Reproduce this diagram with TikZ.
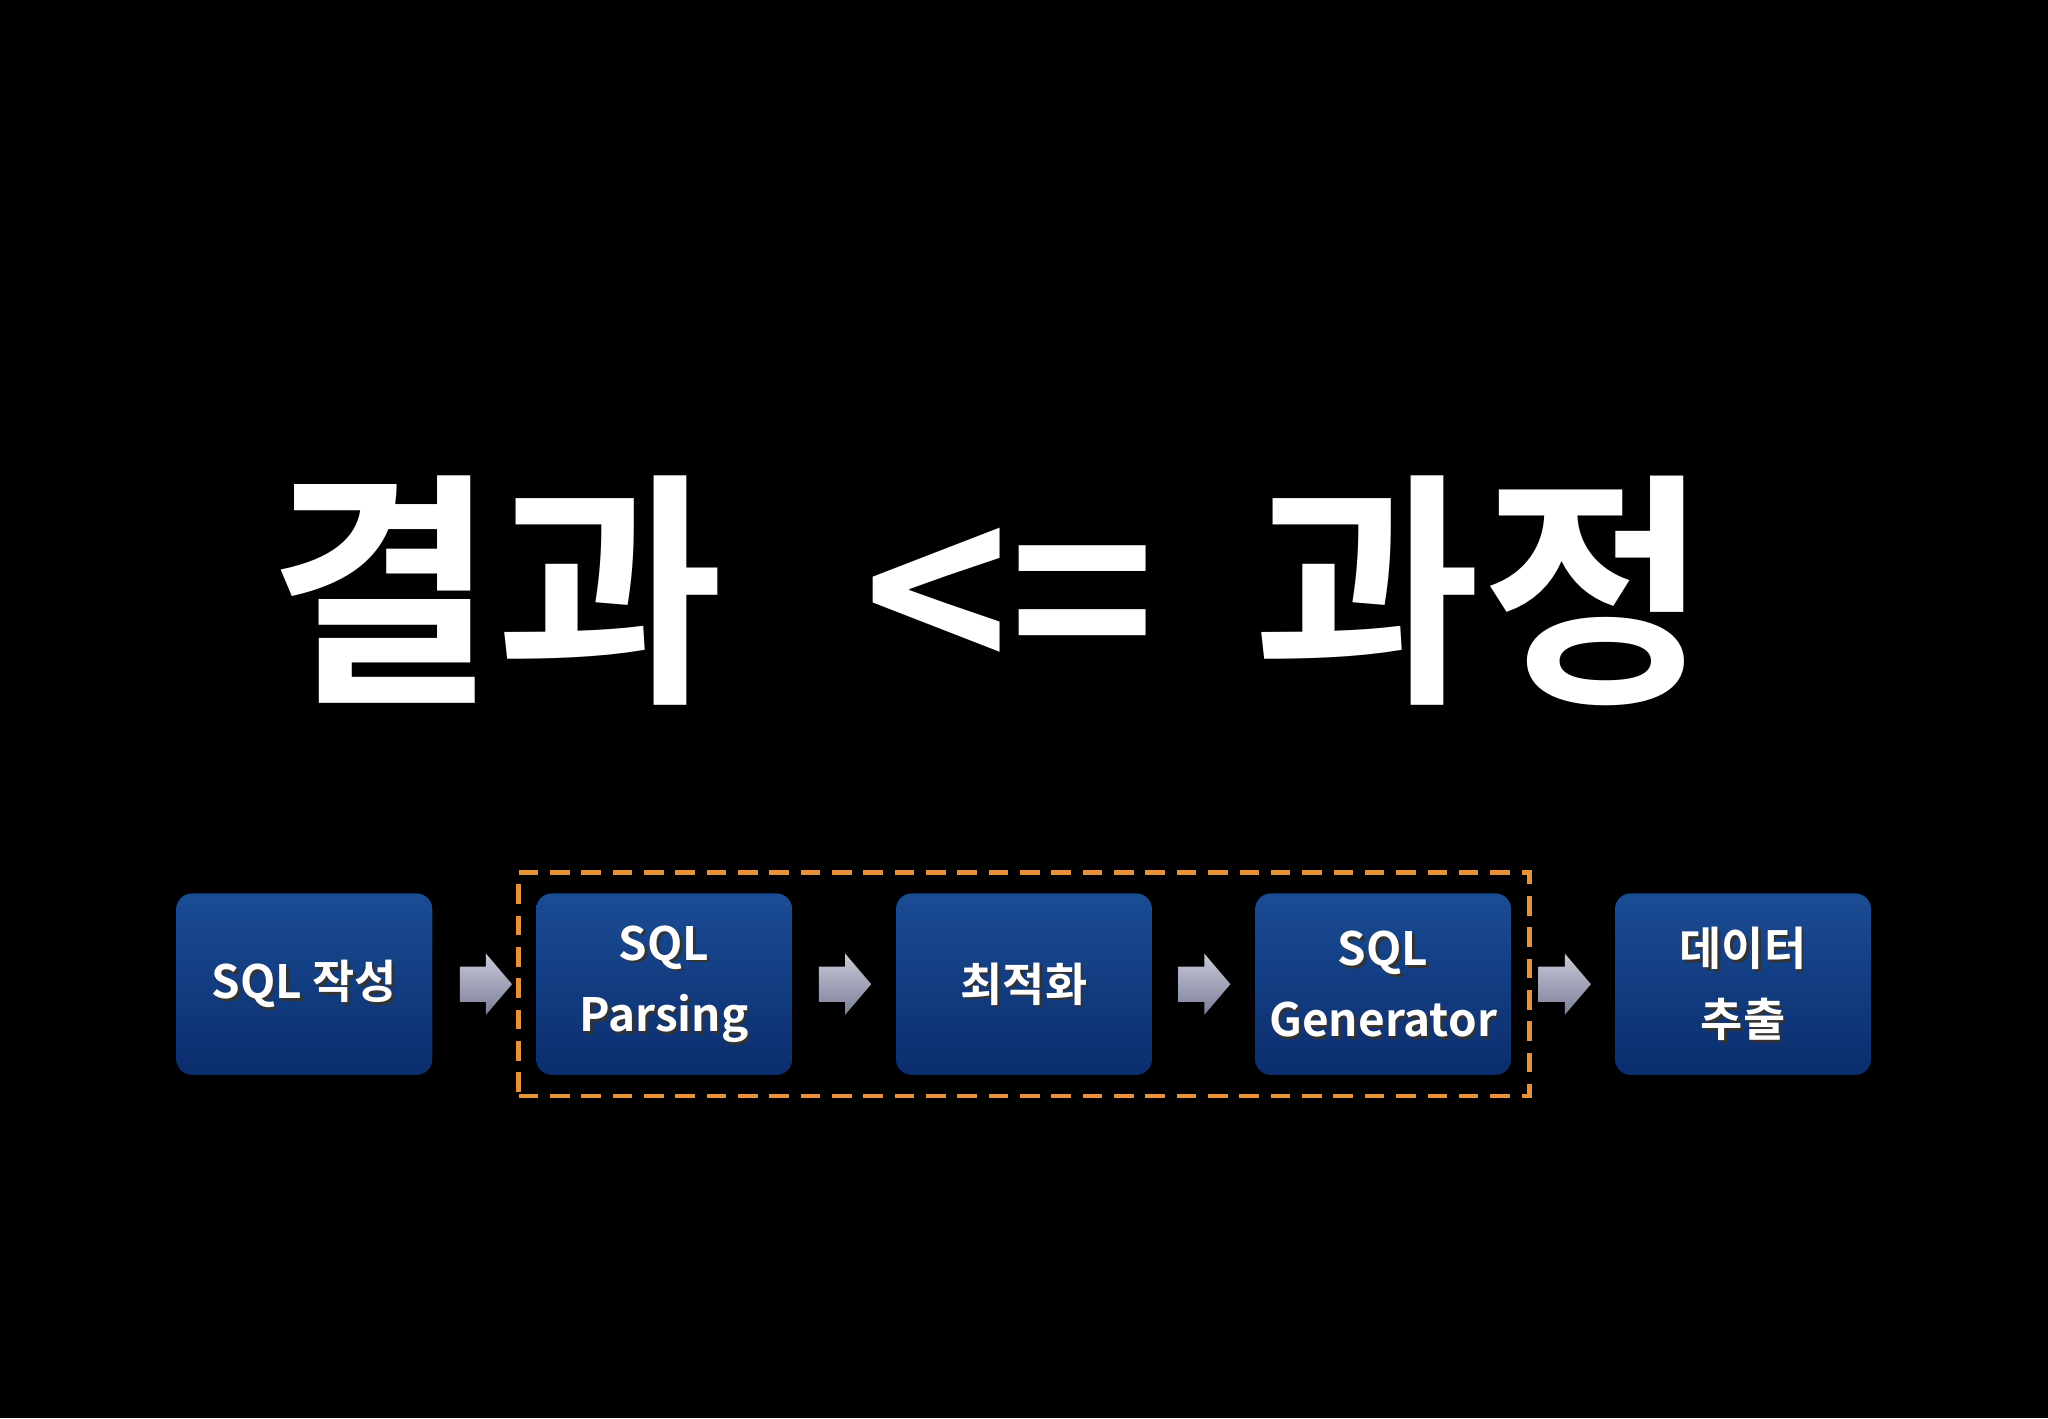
\documentclass[tikz,border=0pt]{standalone}
\usepackage{fontspec}
\newfontfamily\kr{Noto Sans CJK KR Bold}
\usetikzlibrary{calc}
\definecolor{btop}{HTML}{1A4C94}
\definecolor{bbot}{HTML}{0B2D6E}
\definecolor{dorange}{HTML}{E8913A}
\definecolor{atop}{HTML}{C8CAD8}
\definecolor{abot}{HTML}{7A7E98}
\tikzset{
 px/.style={x=0.02cm,y=-0.02cm},
 stepbox/.style={rounded corners=0.24cm,top color=btop,bottom color=bbot,draw=none,minimum width=3.92cm,minimum height=2.78cm,inner sep=0pt},
 lbl/.style={text=white,font=\kr\fontsize{20}{31}\selectfont,align=center},
 shd/.style={text=black!80,font=\kr\fontsize{20}{31}\selectfont,align=center},
 arr/.style={top color=atop,bottom color=abot,draw=none},
}
\newcommand{\mybox}[4]{%
 \node[stepbox] (#1) at (#2,753.5) {};
 \node[shd] at (#2+2,755.5) {#3};
 \node[lbl] (#1t) at (#2,753.5) {#3};}
\newcommand{\myarrow}[2]{%
 \path[arr] (#2-20,740) -- (#2,740) -- (#2,730) -- (#2+20,753.5) -- (#2,777) -- (#2,767) -- (#2-20,767) -- cycle;}
\begin{document}
\begin{tikzpicture}[px]
\fill[black] (0,0) rectangle (1568,1086);
\node[text=white,font=\kr\fontsize{108}{110}\selectfont] (title) at (757,452) {결과\,\, <= \,과정};
\mybox{b1}{233}{SQL 작성}{}
\mybox{b2}{508.5}{SQL\\Parsing}{}
\mybox{b3}{784}{최적화}{}
\mybox{b4}{1059}{SQL\\Generator}{}
\mybox{b5}{1334.5}{데이터\\추출}{}
\myarrow{a1}{372}
\myarrow{a2}{647}
\myarrow{a3}{922}
\myarrow{a4}{1198}
\node[draw=dorange,line width=0.07cm,dash pattern=on 0.3cm off 0.18cm,minimum width=15.48cm,minimum height=3.42cm,inner sep=0pt] (grp) at (784,753.5) {};
\end{tikzpicture}
\end{document}
